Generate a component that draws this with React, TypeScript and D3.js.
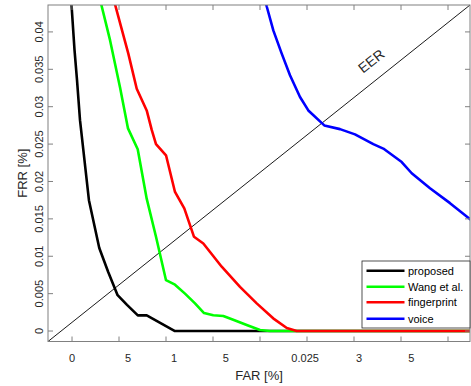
import React, { useEffect, useRef } from "react";
import * as d3 from "d3";

type Pt = [number, number];

const xTickPositions = [0, 1, 2, 3, 4, 5, 6, 7, 8];
const xLabelValues = [0, 1.19, 2.17, 3.27, 4.96, 6.11, 7.22];
const xLabelTexts = ["0", "5", "1", "5", "0.025", "3", "5"];
const yTickValues = [0, 0.005, 0.01, 0.015, 0.02, 0.025, 0.03, 0.035, 0.04];
const yTickTexts = ["0", "0.005", "0.01", "0.015", "0.02", "0.025", "0.03", "0.035", "0.04"];

const proposed: Pt[] = [
  [-0.02, 0.0445], [0.053, 0.0376], [0.106, 0.0336], [0.17, 0.0282], [0.36, 0.0175],
  [0.58, 0.0111], [0.77, 0.0079], [0.97, 0.0048], [1.17, 0.0035], [1.4, 0.0021],
  [1.59, 0.0021], [2.19, 0], [8.5, 0],
];
const wang: Pt[] = [
  [0.59, 0.0445], [0.809, 0.0389], [1.021, 0.0326], [1.191, 0.0271], [1.398, 0.0243],
  [1.589, 0.0177], [1.787, 0.0126], [2.0, 0.0068], [2.191, 0.0062], [2.404, 0.005],
  [2.617, 0.0037], [2.809, 0.0024], [3.006, 0.0021], [3.219, 0.002], [3.43, 0.0015],
  [3.717, 0.0008], [4.0, 0.00013], [4.21, 0], [8.5, 0],
];
const fingerprint: Pt[] = [
  [0.88, 0.0445], [1.198, 0.0371], [1.377, 0.0324], [1.589, 0.0295], [1.696, 0.0269],
  [1.787, 0.025], [2.0, 0.0235], [2.191, 0.0186], [2.389, 0.0164], [2.596, 0.0126],
  [2.794, 0.0117], [3.185, 0.0086], [3.574, 0.0059], [3.93, 0.0037], [4.28, 0.0017],
  [4.57, 0.0004], [4.78, 0], [8.5, 0],
];
const voice: Pt[] = [
  [4.1, 0.0445], [4.143, 0.0434], [4.283, 0.0402], [4.462, 0.0371], [4.638, 0.0342],
  [4.851, 0.0313], [5.028, 0.0295], [5.368, 0.0275], [5.702, 0.027], [6.021, 0.0263],
  [6.411, 0.025], [6.623, 0.0244], [7.015, 0.0226], [7.228, 0.0211], [7.617, 0.0191],
  [8.043, 0.0171], [8.5, 0.0148],
];

const seriesNames = ["proposed", "Wang et al.", "fingerprint", "voice"];
const seriesColors = ["#000000", "#00ff00", "#ff0000", "#0000ff"];
const seriesData = [proposed, wang, fingerprint, voice];

const W = 471;
const H = 386;
const left = 48;
const right = 470;
const top = 5;
const bottom = 341.5;

export default function App() {
  const ref = useRef<SVGSVGElement>(null);

  useEffect(() => {
    const svg = d3.select(ref.current);
    svg.selectAll("*").remove();
    const font = "Liberation Sans, Arial, Helvetica, sans-serif";
    const axisColor = "#808080";
    const textColor = "#262626";

    const x = d3.scaleLinear().domain([-0.511, 8.468]).range([left, right]);
    const y = d3.scaleLinear().domain([-0.0014, 0.0436]).range([bottom, top]);

    svg.append("rect").attr("x", 0).attr("y", 0).attr("width", W).attr("height", H).attr("fill", "#fff");

    svg.append("defs").append("clipPath").attr("id", "plotclip")
      .append("rect").attr("x", left).attr("y", top).attr("width", right - left).attr("height", bottom - top);

    // EER diagonal
    const [x0, x1] = x.domain();
    const [y0, y1] = y.domain();
    svg.append("line")
      .attr("x1", x(x0)).attr("y1", y(y0)).attr("x2", x(x1)).attr("y2", y(y1))
      .attr("stroke", "#000").attr("stroke-width", 0.9);

    const g = svg.append("g").attr("clip-path", "url(#plotclip)");
    const line = d3.line<Pt>().x((d) => x(d[0])).y((d) => y(d[1]));
    seriesData.forEach((data, i) => {
      g.append("path").attr("d", line(data)!).attr("fill", "none")
        .attr("stroke", seriesColors[i]).attr("stroke-width", 2.6)
        .attr("stroke-linejoin", "round");
    });

    // Box
    svg.append("rect").attr("x", left).attr("y", top).attr("width", right - left).attr("height", bottom - top)
      .attr("fill", "none").attr("stroke", axisColor).attr("stroke-width", 1);

    // ticks
    const tl = 5;
    xTickPositions.forEach((v) => {
      svg.append("line").attr("x1", x(v)).attr("x2", x(v)).attr("y1", bottom).attr("y2", bottom - tl)
        .attr("stroke", axisColor);
      svg.append("line").attr("x1", x(v)).attr("x2", x(v)).attr("y1", top).attr("y2", top + tl)
        .attr("stroke", axisColor);
    });
    yTickValues.forEach((v) => {
      svg.append("line").attr("x1", left).attr("x2", left + tl).attr("y1", y(v)).attr("y2", y(v))
        .attr("stroke", axisColor);
      svg.append("line").attr("x1", right).attr("x2", right - tl).attr("y1", y(v)).attr("y2", y(v))
        .attr("stroke", axisColor);
    });

    xLabelValues.forEach((v, i) => {
      svg.append("text").attr("x", x(v)).attr("y", 362).attr("text-anchor", "middle")
        .attr("font-family", font).attr("font-size", 11).attr("fill", textColor).text(xLabelTexts[i]);
    });
    yTickValues.forEach((v, i) => {
      svg.append("text").attr("transform", `translate(43,${y(v)}) rotate(-90)`)
        .attr("text-anchor", "middle").attr("font-family", font).attr("font-size", 11)
        .attr("fill", textColor).text(yTickTexts[i]);
    });

    svg.append("text").attr("x", (left + right) / 2).attr("y", 380).attr("text-anchor", "middle")
      .attr("font-family", font).attr("font-size", 13).attr("fill", textColor).text("FAR [%]");
    svg.append("text").attr("transform", `translate(27,${(top + bottom) / 2}) rotate(-90)`)
      .attr("text-anchor", "middle").attr("font-family", font).attr("font-size", 13)
      .attr("fill", textColor).text("FRR [%]");

    // EER label
    const ang = (Math.atan2(y(y0) - y(y1), x(x1) - x(x0)) * 180) / Math.PI;
    svg.append("text").attr("transform", `translate(372,62) rotate(${-ang})`)
      .attr("text-anchor", "middle").attr("dominant-baseline", "middle")
      .attr("font-family", font).attr("font-size", 14).attr("fill", textColor).text("EER");

    // Legend
    const lg = svg.append("g");
    lg.append("rect").attr("x", 362).attr("y", 261).attr("width", 108).attr("height", 67)
      .attr("fill", "#fff").attr("stroke", textColor).attr("stroke-width", 0.8);
    const rowY = [270.7, 286.7, 302.3, 318.7];
    seriesNames.forEach((name, i) => {
      lg.append("line").attr("x1", 366.5).attr("x2", 404.5).attr("y1", rowY[i]).attr("y2", rowY[i])
        .attr("stroke", seriesColors[i]).attr("stroke-width", 2.6);
      lg.append("text").attr("x", 408).attr("y", rowY[i]).attr("dominant-baseline", "central")
        .attr("font-family", font).attr("font-size", 11).attr("fill", "#000").text(name);
    });
  }, []);

  return (
    <svg ref={ref} width={W} height={H}
      style={{ position: "fixed", left: 0, top: 0, display: "block" }} />
  );
}
